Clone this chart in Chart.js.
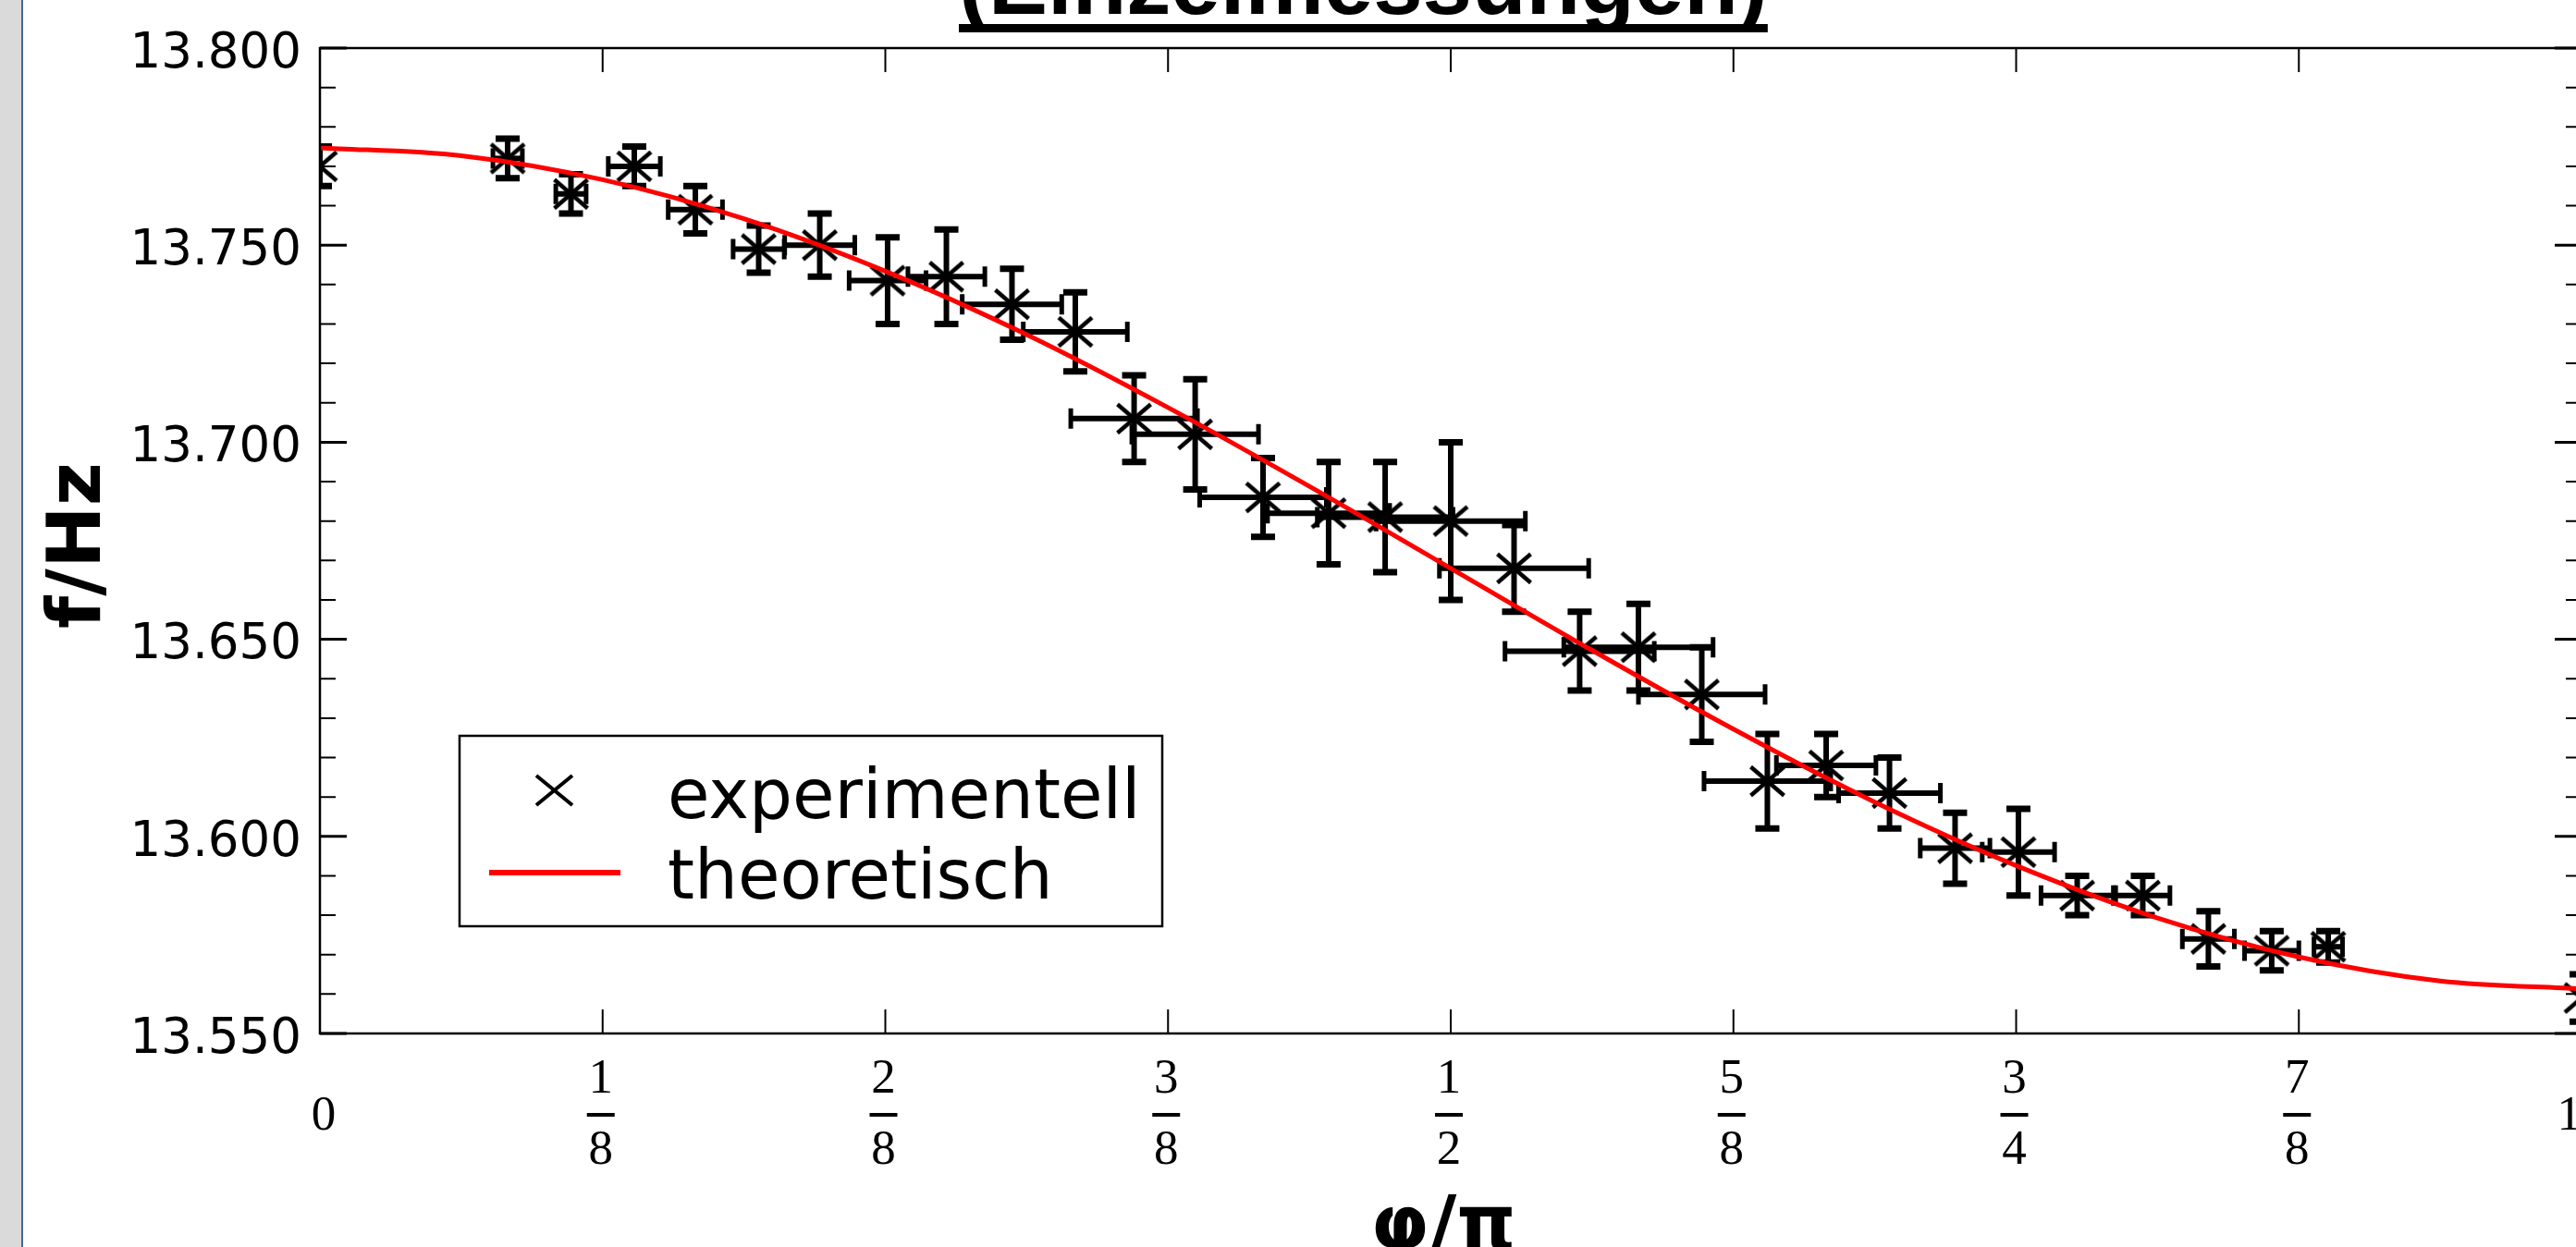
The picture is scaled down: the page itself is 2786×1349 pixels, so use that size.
<!DOCTYPE html>
<html>
<head>
<meta charset="utf-8">
<title>Einzelmessungen</title>
<script src="https://cdn.jsdelivr.net/npm/chart.js@4.4.0/dist/chart.umd.min.js"></script>
<style>
  html, body { margin: 0; padding: 0; background: #fff; overflow: hidden; }
  #wrap { position: absolute; left: 0; top: 0; width: 2830px; height: 1349px; }
  #strip { position: absolute; left: 0; top: 0; width: 23px; height: 1349px; background: #dadada; border-right: 2px solid #3f6691; }
</style>
</head>
<body>
<div id="wrap"><canvas id="chart" width="2830" height="1349"></canvas></div>
<div id="strip"></div>
<script>
// measured values (phi in units of pi, f in Hz)
const phiExp = [0, 0.083, 0.111, 0.139, 0.166, 0.194, 0.221, 0.251, 0.277, 0.306, 0.334, 0.360, 0.387, 0.417, 0.446, 0.471,
                0.500, 0.528, 0.557, 0.583, 0.611, 0.640, 0.666, 0.694, 0.723, 0.751, 0.777, 0.806, 0.835, 0.863, 0.888, 1.0];
const fExp = [13.770, 13.772, 13.763, 13.770, 13.759, 13.749, 13.750, 13.741, 13.742, 13.735, 13.728, 13.706, 13.702, 13.686, 13.682, 13.681,
              13.680, 13.668, 13.647, 13.648, 13.636, 13.614, 13.618, 13.611, 13.597, 13.596, 13.585, 13.585, 13.574, 13.571, 13.572, 13.559];
const phiErr = [0, 0.0065, 0.0067, 0.0115, 0.012, 0.0113, 0.0155, 0.017, 0.017, 0.022, 0.023, 0.028, 0.028, 0.028, 0.027, 0.030,
                0.033, 0.033, 0.033, 0.033, 0.028, 0.028, 0.022, 0.0225, 0.0154, 0.016, 0.016, 0.012, 0.0115, 0.012, 0.0063, 0];
const fErr = [0.005, 0.005, 0.005, 0.005, 0.006, 0.006, 0.008, 0.011, 0.012, 0.009, 0.010, 0.011, 0.014, 0.010, 0.013, 0.014,
              0.020, 0.011, 0.010, 0.011, 0.012, 0.012, 0.008, 0.009, 0.009, 0.011, 0.005, 0.005, 0.007, 0.005, 0.004, 0.006];

// theoretical curve
const phiTheo = [0, 0.0625, 0.125, 0.1875, 0.25, 0.3125, 0.375, 0.4375, 0.5, 0.5625, 0.625, 0.6875, 0.75, 0.8125, 0.875, 0.9375, 1];
const fTheo = [13.7747, 13.7727, 13.7666, 13.7567, 13.7434, 13.7273, 13.7088, 13.6888, 13.668, 13.6472, 13.6272, 13.6087,
               13.5926, 13.5793, 13.5694, 13.5633, 13.5613];

// axis ticks
const xTickValues = [0, 0.125, 0.25, 0.375, 0.5, 0.625, 0.75, 0.875, 1];
const xTickNum = ['0', '1', '2', '3', '1', '5', '3', '7', '1'];
const xTickDen = ['', '8', '8', '8', '2', '8', '4', '8', ''];
const yMin = 13.55, yMax = 13.80;

const titleText = '(Einzelmessungen)';
const xTitle = 'φ/π';
const yTitle = 'f/Hz';

function makeCross(w, h, lw) {
    const c = document.createElement('canvas');
    c.width = w + lw * 2;
    c.height = h + lw * 2;
    const g = c.getContext('2d');
    g.strokeStyle = '#000';
    g.lineWidth = lw;
    g.beginPath();
    g.moveTo(lw, lw); g.lineTo(lw + w, lw + h);
    g.moveTo(lw + w, lw); g.lineTo(lw, lw + h);
    g.stroke();
    return c;
}
const crossMarker = makeCross(36, 31, 4.5);

const figurePlugin = {
    id: 'figure',
    beforeDatasetsDraw(chart) {
        // error bars, under the markers and the curve
        const { ctx, chartArea: a, scales: { x, y } } = chart;
        ctx.save();
        ctx.beginPath();
        ctx.rect(a.left, a.top, a.right - a.left, a.bottom - a.top);
        ctx.clip();
        ctx.strokeStyle = '#000';
        phiExp.forEach((phi, i) => {
            const px = x.getPixelForValue(phi);
            const py = y.getPixelForValue(fExp[i]);
            const yTop = y.getPixelForValue(fExp[i] + fErr[i]);
            const yBot = y.getPixelForValue(fExp[i] - fErr[i]);
            ctx.lineWidth = 6;
            ctx.beginPath();
            ctx.moveTo(px, yTop); ctx.lineTo(px, yBot);
            ctx.stroke();
            ctx.lineWidth = 7;
            ctx.beginPath();
            ctx.moveTo(px - 13, yTop); ctx.lineTo(px + 13, yTop);
            ctx.moveTo(px - 13, yBot); ctx.lineTo(px + 13, yBot);
            ctx.stroke();
            if (phiErr[i] > 0) {
                const xl = x.getPixelForValue(phi - phiErr[i]);
                const xr = x.getPixelForValue(phi + phiErr[i]);
                ctx.lineWidth = 6;
                ctx.beginPath();
                ctx.moveTo(xl, py); ctx.lineTo(xr, py);
                ctx.stroke();
                ctx.lineWidth = 5;
                ctx.beginPath();
                ctx.moveTo(xl, py - 11); ctx.lineTo(xl, py + 11);
                ctx.moveTo(xr, py - 11); ctx.lineTo(xr, py + 11);
                ctx.stroke();
            }
        });
        ctx.restore();
    },
    afterDraw(chart) {
        const { ctx, chartArea: a, scales: { x, y } } = chart;
        ctx.save();
        ctx.strokeStyle = '#000';
        ctx.fillStyle = '#000';

        // frame
        ctx.lineWidth = 2.5;
        ctx.strokeRect(a.left, a.top, a.right - a.left, a.bottom - a.top);

        // y ticks, inward on both sides (minor every 0.01)
        for (let k = 0; k <= 25; k++) {
            const py = y.getPixelForValue(yMin + k * 0.01);
            const major = k % 5 === 0;
            const len = major ? 29 : 17;
            ctx.lineWidth = major ? 3 : 2;
            ctx.beginPath();
            ctx.moveTo(a.left, py); ctx.lineTo(a.left + len, py);
            ctx.moveTo(a.right, py); ctx.lineTo(a.right - len, py);
            ctx.stroke();
        }

        // x ticks, inward top and bottom
        ctx.lineWidth = 2;
        xTickValues.forEach(v => {
            const px = x.getPixelForValue(v);
            ctx.beginPath();
            ctx.moveTo(px, a.top); ctx.lineTo(px, a.top + 26);
            ctx.moveTo(px, a.bottom); ctx.lineTo(px, a.bottom - 26);
            ctx.stroke();
        });

        // x tick labels as fractions
        ctx.font = '53px "Liberation Serif"';
        ctx.textBaseline = 'alphabetic';
        xTickValues.forEach((v, i) => {
            const px = x.getPixelForValue(v);
            if (xTickDen[i]) {
                ctx.textAlign = 'center';
                ctx.fillText(xTickNum[i], px - 2, 1182);
                ctx.fillRect(px - 17, 1204, 30, 4);
                ctx.fillText(xTickDen[i], px - 2, 1259);
            } else if (i === 0) {
                ctx.textAlign = 'center';
                ctx.fillText(xTickNum[i], px + 4, 1222);
            } else {
                ctx.textAlign = 'right';
                ctx.fillText(xTickNum[i], px, 1222);
            }
        });

        // axis titles
        ctx.font = 'bold 81px "DejaVu Sans"';
        ctx.textAlign = 'center';
        ctx.fillText(xTitle, 1561, 1351);
        ctx.save();
        ctx.translate(108, 590);
        ctx.rotate(-Math.PI / 2);
        ctx.fillText(yTitle, 0, 0);
        ctx.restore();

        // title, cut off at the top, underlined
        ctx.font = 'bold 96px "Liberation Sans"';
        ctx.textAlign = 'left';
        ctx.fillText(titleText, 1037, 15);
        ctx.fillRect(1037, 26, ctx.measureText(titleText).width, 9);

        // legend
        const ds = chart.data.datasets;
        ctx.fillStyle = '#fff';
        ctx.fillRect(497, 796, 760, 206);
        ctx.lineWidth = 2.5;
        ctx.strokeRect(497, 796, 760, 206);
        ctx.lineWidth = 4;
        ctx.beginPath();
        ctx.moveTo(580, 839); ctx.lineTo(619, 871);
        ctx.moveTo(619, 839); ctx.lineTo(580, 871);
        ctx.stroke();
        ctx.strokeStyle = ds[1].borderColor;
        ctx.lineWidth = 6;
        ctx.beginPath();
        ctx.moveTo(529, 944); ctx.lineTo(671, 944);
        ctx.stroke();
        ctx.fillStyle = '#000';
        ctx.font = '74px "DejaVu Sans"';
        ctx.fillText(ds[0].label, 722, 885);
        ctx.fillText(ds[1].label, 722, 972);
        ctx.restore();
    }
};

new Chart(document.getElementById('chart'), {
    type: 'scatter',
    data: {
        datasets: [
            {
                label: 'experimentell',
                data: phiExp.map((p, i) => ({ x: p, y: fExp[i] })),
                pointStyle: crossMarker,
                pointRadius: 18,
                showLine: false,
                clip: 0,
                order: 1
            },
            {
                label: 'theoretisch',
                data: phiTheo.map((p, i) => ({ x: p, y: fTheo[i] })),
                showLine: true,
                borderColor: '#ff0000',
                borderWidth: 5,
                pointRadius: 0,
                cubicInterpolationMode: 'monotone',
                clip: 0,
                order: 0
            }
        ]
    },
    options: {
        responsive: false,
        animation: false,
        devicePixelRatio: 1,
        layout: { padding: { left: 0, top: 52, right: 38, bottom: 0 } },
        scales: {
            x: {
                type: 'linear',
                min: 0,
                max: 1,
                ticks: { display: false, stepSize: 0.125 },
                grid: { display: false, drawTicks: false },
                border: { display: false },
                afterFit: s => { s.height = 231; }
            },
            y: {
                type: 'linear',
                min: yMin,
                max: yMax,
                ticks: {
                    stepSize: 0.05,
                    padding: 20,
                    labelOffset: 7,
                    color: '#000',
                    font: { family: 'DejaVu Sans', size: 53 },
                    callback: v => v.toFixed(3)
                },
                grid: { display: false, drawTicks: false },
                border: { display: false },
                afterFit: s => { s.width = 346; }
            }
        },
        plugins: {
            legend: { display: false },
            tooltip: { enabled: false }
        }
    },
    plugins: [figurePlugin]
});
</script>
</body>
</html>
